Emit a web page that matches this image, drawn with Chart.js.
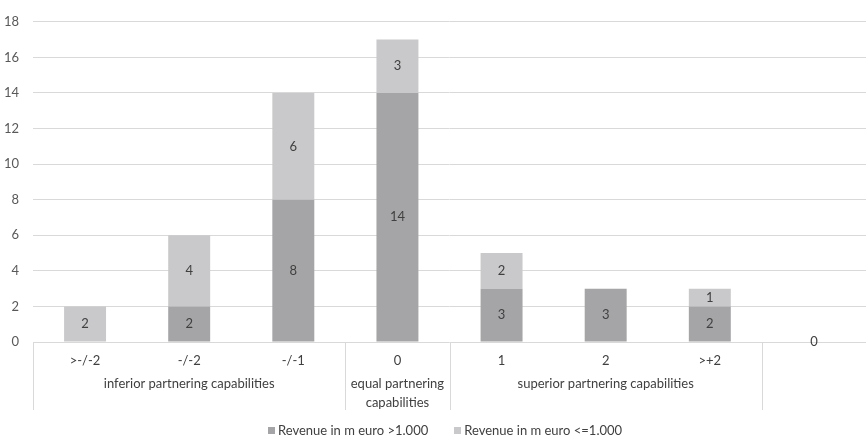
<!DOCTYPE html>
<html>
<head>
<meta charset="utf-8">
<script src="https://cdn.jsdelivr.net/npm/chart.js@4"></script>
<style>
  html, body { margin: 0; padding: 0; background: #fff; }
  #wrap { width: 866px; height: 439px; position: relative; }
</style>
</head>
<body>
<div id="wrap"><canvas id="chart"></canvas></div>
<script>
// categories and their outer grouping
const categories = ['>-/-2', '-/-2', '-/-1', '0', '1', '2', '>+2', ''];
const groupNames = [['inferior partnering capabilities'], ['equal partnering', 'capabilities'], ['superior partnering capabilities'], ['']];
const groupSpans = [3, 1, 3, 1];

// series values
const revenueAbove = [null, 2, 8, 14, 3, 3, 2, 0];
const revenueBelow = [2, 4, 6, 3, 2, null, 1, null];
const seriesNames = ['Revenue in m euro >1.000', 'Revenue in m euro <=1.000'];

// value axis
const yTicks = [0, 2, 4, 6, 8, 10, 12, 14, 16, 18];

const FONT = 'Lato, "Open Sans", sans-serif';
const FONT_SIZE = 13;
const GRID = '#d9d9d9';

// value labels in the middle of each segment
const segmentLabels = {
    id: 'segmentLabels',
    afterDatasetsDraw(chart) {
        const ctx = chart.ctx;
        ctx.save();
        ctx.font = FONT_SIZE + 'px ' + FONT;
        ctx.fillStyle = '#404040';
        ctx.textAlign = 'center';
        ctx.textBaseline = 'middle';
        chart.data.datasets.forEach((ds, i) => {
            const meta = chart.getDatasetMeta(i);
            meta.data.forEach((bar, j) => {
                const v = ds.data[j];
                if (v === null || v === undefined) return;
                ctx.fillText(String(v), bar.x, (bar.y + bar.base) / 2);
            });
        });
        ctx.restore();
    }
};

// two-level category axis + legend underneath the plot
const categoryAxis = {
    id: 'categoryAxis',
    afterDraw(chart) {
        const ctx = chart.ctx;
        const area = chart.chartArea;
        const x = chart.scales.x;
        const step = (area.right - area.left) / categories.length;
        const base = area.bottom;
        ctx.save();
        ctx.font = FONT_SIZE + 'px ' + FONT;
        ctx.fillStyle = '#404040';
        ctx.textAlign = 'center';
        ctx.textBaseline = 'middle';

        categories.forEach((c, i) => {
            ctx.fillText(c, x.getPixelForValue(i), base + 19);
        });

        // group separators and names
        ctx.strokeStyle = GRID;
        ctx.lineWidth = 1;
        let start = 0;
        const edges = [0];
        groupSpans.forEach((span, g) => {
            const left = area.left + start * step;
            const mid = left + span * step / 2;
            groupNames[g].forEach((line, k) => {
                ctx.fillText(line, mid, base + 42 + k * 19);
            });
            start += span;
            edges.push(start);
        });
        edges.forEach(e => {
            const px = Math.round(area.left + e * step) + 0.5;
            ctx.beginPath();
            ctx.moveTo(px, base);
            ctx.lineTo(px, base + 68);
            ctx.stroke();
        });

        // legend
        const colors = chart.data.datasets.map(d => d.backgroundColor);
        const box = 7, gapBox = 3, gapItem = 26;
        const widths = seriesNames.map(n => ctx.measureText(n).width);
        const total = widths.reduce((a, w) => a + box + gapBox + w, 0) + gapItem * (seriesNames.length - 1);
        let lx = 445 - total / 2;
        const ly = 431;
        ctx.textAlign = 'left';
        seriesNames.forEach((n, i) => {
            ctx.fillStyle = colors[i];
            ctx.fillRect(Math.round(lx), ly - 4, box, box);
            lx += box + gapBox;
            ctx.fillStyle = '#404040';
            ctx.fillText(n, lx, ly);
            lx += widths[i] + gapItem;
        });
        ctx.restore();
    }
};

new Chart(document.getElementById('chart'), {
    type: 'bar',
    data: {
        labels: categories,
        datasets: [{
            label: seriesNames[0],
            data: revenueAbove,
            backgroundColor: '#a5a5a7',
            barPercentage: 1,
            categoryPercentage: 0.403,
        }, {
            label: seriesNames[1],
            data: revenueBelow,
            backgroundColor: '#c9c9cb',
            barPercentage: 1,
            categoryPercentage: 0.403,
        }]
    },
    options: {
        responsive: true,
        maintainAspectRatio: false,
        animation: false,
        layout: { padding: { top: 10, right: 0, bottom: 97, left: 0 } },
        plugins: {
            legend: { display: false },
            tooltip: { enabled: false },
        },
        scales: {
            x: {
                stacked: true,
                display: false,
            },
            y: {
                stacked: true,
                min: yTicks[0],
                max: yTicks[yTicks.length - 1],
                afterBuildTicks: scale => { scale.ticks = yTicks.map(v => ({ value: v })); },
                afterFit: scale => { scale.width = 33; },
                grid: { color: GRID, drawTicks: false },
                border: { display: false },
                ticks: {
                    color: '#595959',
                    padding: 14,
                    font: { family: FONT, size: FONT_SIZE },
                },
            },
        },
    },
    plugins: [segmentLabels, categoryAxis],
});
</script>
</body>
</html>
